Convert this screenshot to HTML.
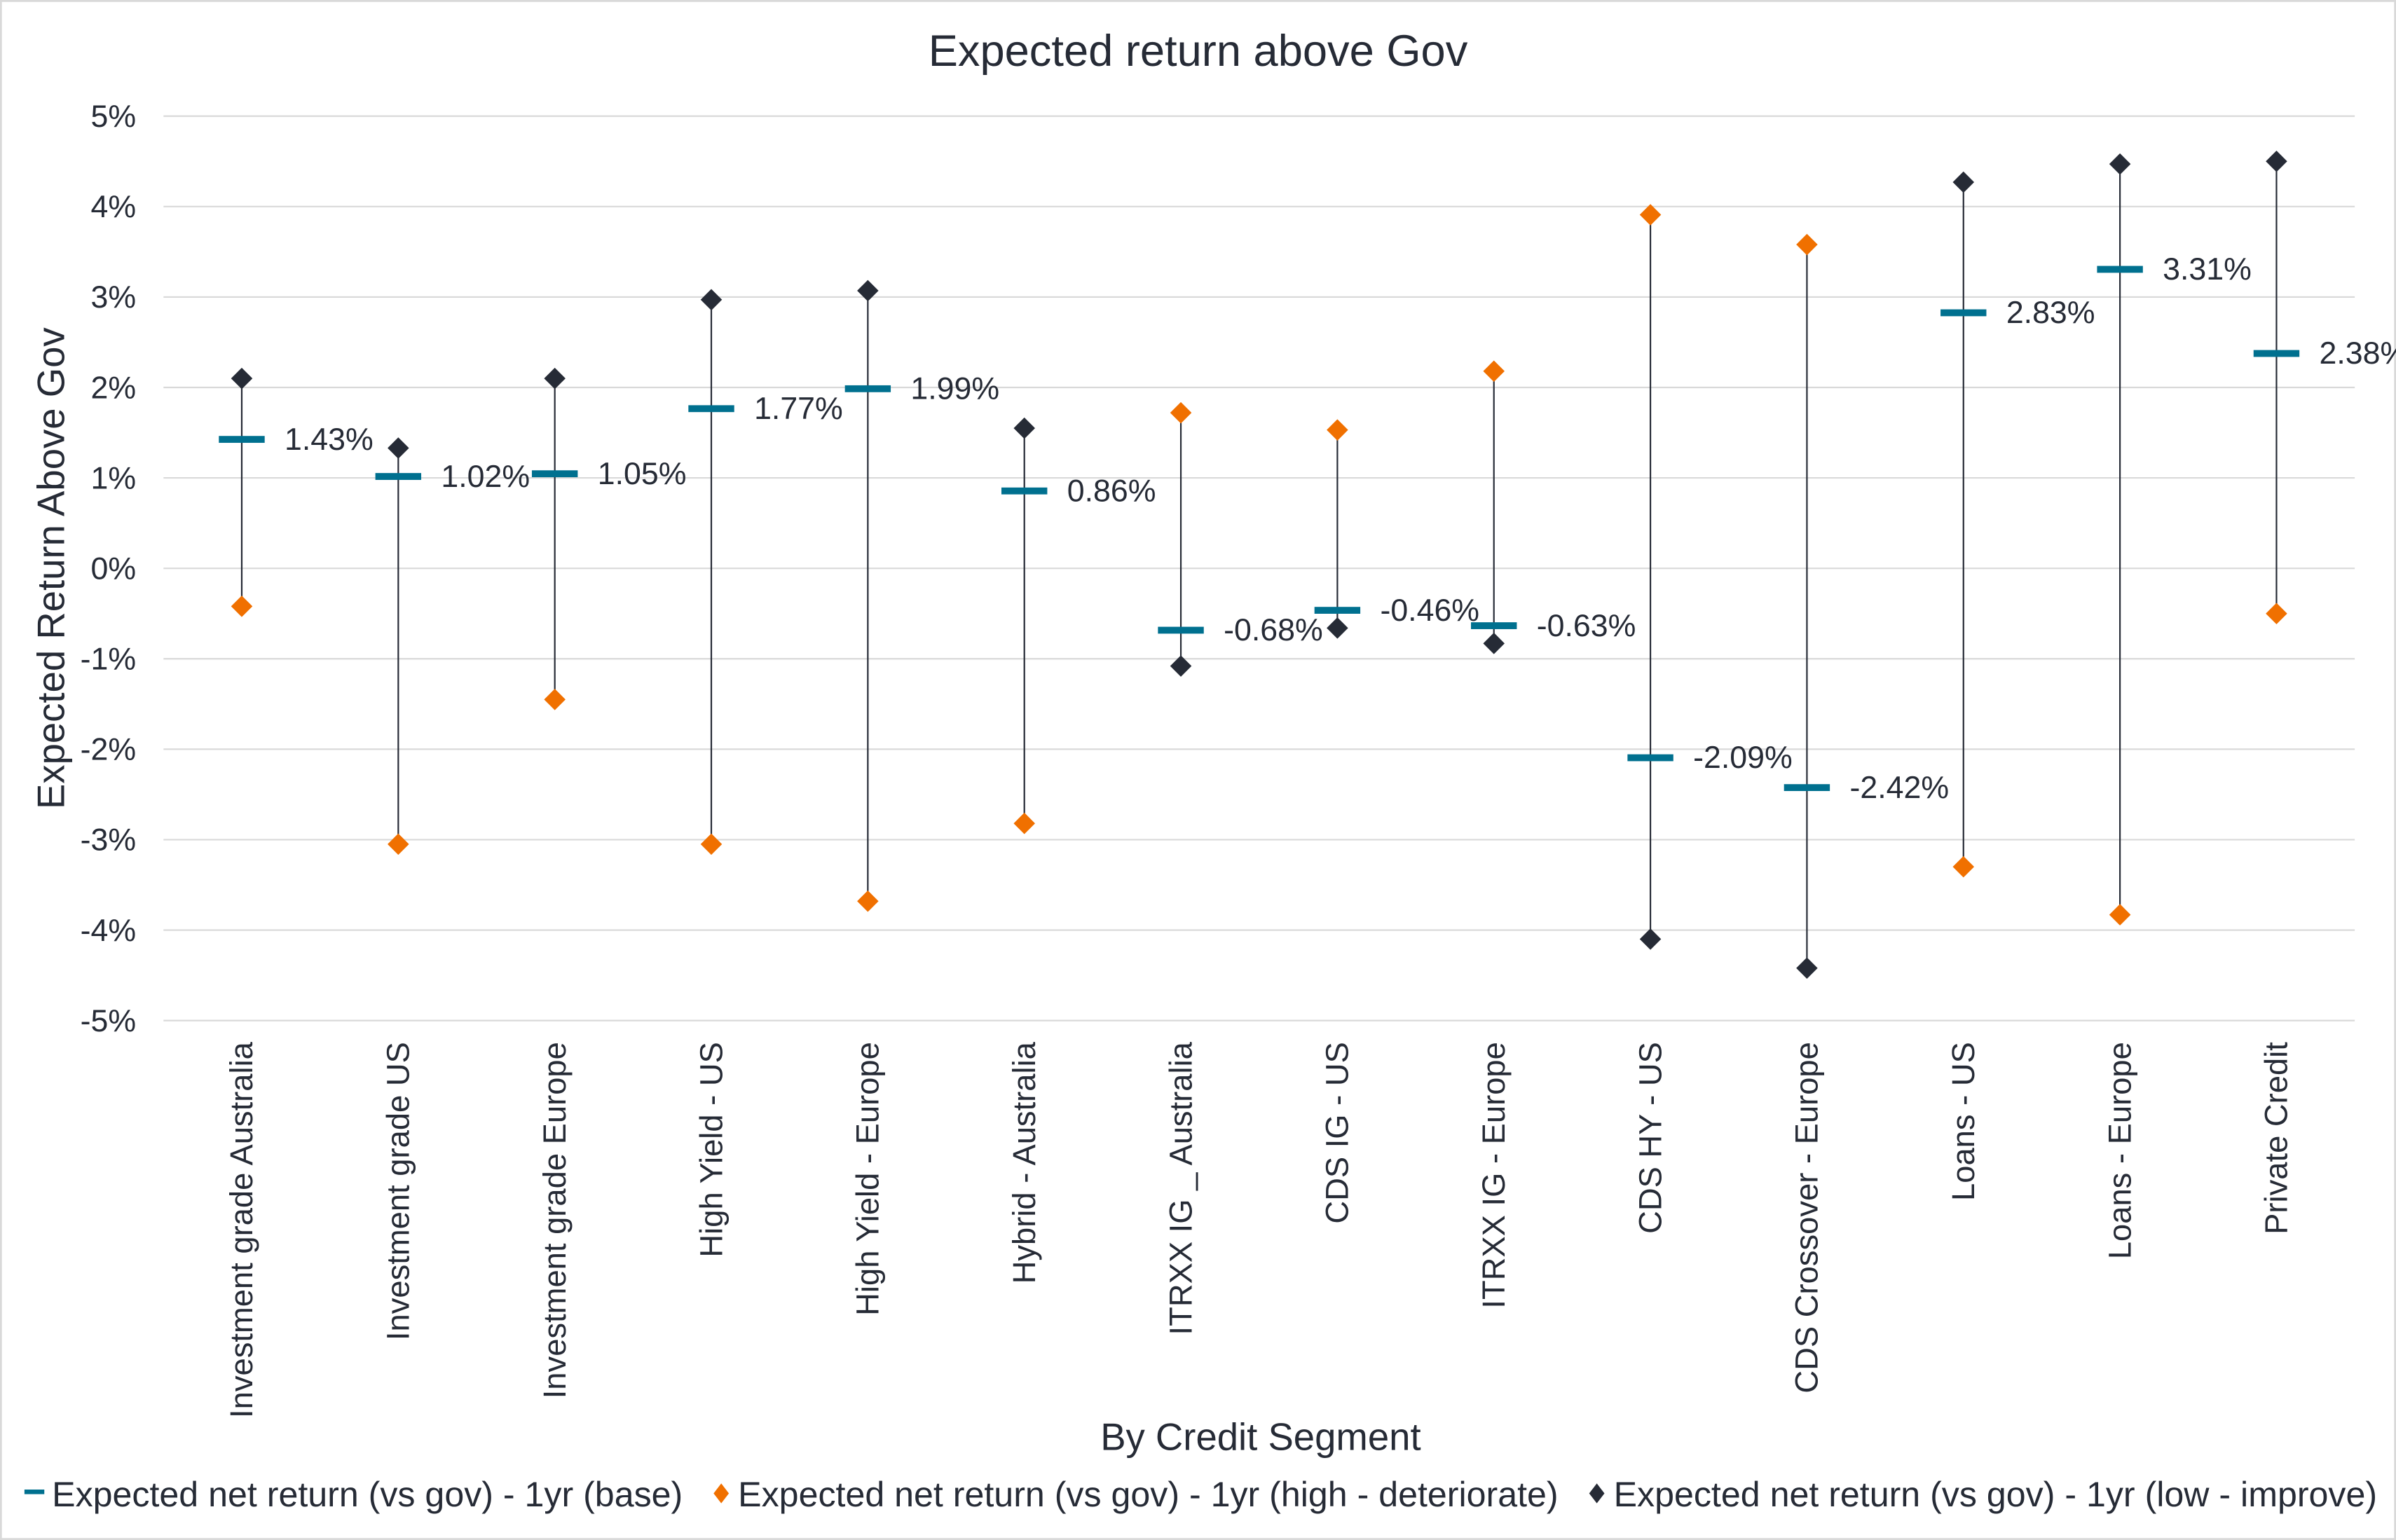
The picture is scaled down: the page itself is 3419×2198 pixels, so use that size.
<!DOCTYPE html>
<html><head><meta charset="utf-8"><style>
html,body{margin:0;padding:0;background:#fff;}
svg{display:block;font-family:"Liberation Sans",Arial,sans-serif;}
</style></head><body>
<svg id="chart" width="3419" height="2198" viewBox="0 0 1568 1008">
<rect x="0.5" y="0.5" width="1567" height="1007" fill="#fff" stroke="#d9d9d9" stroke-width="1.5"/>
<text x="784" y="43" text-anchor="middle" font-size="29" fill="#262b36">Expected return above Gov</text>
<g id="grid"></g><g id="yticks"></g><g id="marks"></g><g id="xlabels"></g>
<text transform="translate(42,372) rotate(-90)" text-anchor="middle" font-size="25" fill="#262b36">Expected Return Above Gov</text>
<text x="825" y="949" text-anchor="middle" font-size="25" fill="#262b36">By Credit Segment</text>
<g font-size="23" fill="#262b36">
<g><rect x="16" y="975" width="13" height="3" fill="#00708f"/><text x="34" y="986">Expected net return (vs gov) - 1yr (base)</text></g>
<g><path d="M472,971 l5,6.5 l-5,6.5 l-5,-6.5z" fill="#f07000"/><text x="483" y="986">Expected net return (vs gov) - 1yr (high - deteriorate)</text></g>
<g><path d="M1045,971 l5,6.5 l-5,6.5 l-5,-6.5z" fill="#262b36"/><text x="1056" y="986">Expected net return (vs gov) - 1yr (low - improve)</text></g>
</g>
</svg>
<script>
const categories=["Investment grade Australia","Investment grade US","Investment grade Europe","High Yield - US","High Yield - Europe","Hybrid - Australia","ITRXX IG _ Australia","CDS IG - US","ITRXX IG - Europe","CDS HY - US","CDS Crossover - Europe","Loans - US","Loans - Europe","Private Credit"];
const baseVals=[1.43,1.02,1.05,1.77,1.99,0.86,-0.68,-0.46,-0.63,-2.09,-2.42,2.83,3.31,2.38];
const highVals=[-0.42,-3.05,-1.45,-3.05,-3.68,-2.82,1.72,1.53,2.18,3.91,3.58,-3.30,-3.83,-0.50];
const lowVals=[2.10,1.33,2.10,2.97,3.07,1.55,-1.08,-0.66,-0.83,-4.10,-4.42,4.27,4.47,4.50];
const yTicks=[5,4,3,2,1,0,-1,-2,-3,-4,-5];
const NS="http://www.w3.org/2000/svg";
const X0=107,X1=1541,Ytop=76,Ybot=668;
const y=v=>Ytop+(5-v)/10*(Ybot-Ytop);
const bw=(X1-X0)/categories.length;
const x=i=>X0+bw*(i+0.5);
function mk(tag,attrs,parent){const e=document.createElementNS(NS,tag);for(const k in attrs)e.setAttribute(k,attrs[k]);document.getElementById(parent).appendChild(e);return e;}
yTicks.forEach(t=>{
 const l=mk('line',{x1:X0,x2:X1,y1:y(t),y2:y(t),stroke:'#d9d9d9','stroke-width':1},'grid');
 
 
 const tx=mk('text',{x:89,y:y(t)+7,'text-anchor':'end','font-size':20.5,fill:'#262b36'},'yticks');
 tx.textContent=t+'%';
 
 
});
categories.forEach((c,i)=>{
 const cx=x(i);
 const ln=mk('line',{x1:cx,x2:cx,y1:y(Math.max(highVals[i],lowVals[i])),y2:y(Math.min(highVals[i],lowVals[i])),stroke:'#262b36','stroke-width':1},'marks');
 
 
 const h=mk('path',{d:`M${cx},${y(highVals[i])-7} l7,7 l-7,7 l-7,-7z`,fill:'#f07000'},'marks');
 
 
 const lo=mk('path',{d:`M${cx},${y(lowVals[i])-7} l7,7 l-7,7 l-7,-7z`,fill:'#262b36'},'marks');
 
 
 const b=mk('rect',{x:cx-15,y:y(baseVals[i])-2,width:30,height:4.5,fill:'#00708f'},'marks');
 
 
 const dl=mk('text',{x:cx+28,y:y(baseVals[i])+7,'font-size':20.5,fill:'#262b36'},'marks');
 dl.textContent=baseVals[i].toFixed(2)+'%';
 
 
 const cl=mk('text',{transform:`translate(${cx+7},682) rotate(-90)`,'text-anchor':'end','font-size':20.8,fill:'#262b36'},'xlabels');
 cl.textContent=c;
 
 
});
</script>
</body></html>
